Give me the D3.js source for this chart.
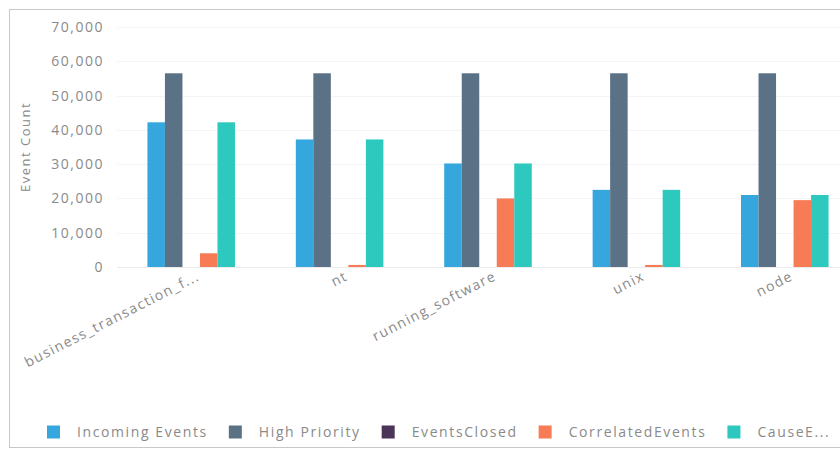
<!DOCTYPE html>
<html>
<head>
<meta charset="utf-8">
<script src="https://cdn.jsdelivr.net/npm/d3@7/dist/d3.min.js"></script>
<style>
  html, body { margin: 0; padding: 0; background: #fff; }
  svg { display: block; }
  text { font-family: "Open Sans", sans-serif; fill: #8a8a8a; }
</style>
</head>
<body>
<svg id="chart" width="840" height="450"></svg>
<script>
const categories = ["business_transaction_f...", "nt", "running_software", "unix", "node"];
const seriesNames = ["Incoming Events", "High Priority", "EventsClosed", "CorrelatedEvents", "CauseE..."];
const seriesColors = ["#35a7dc", "#5b7186", "#4a3558", "#f77b55", "#2dc9bf"];
const incomingEvents = [42200, 37200, 30200, 22500, 21000];
const highPriority = [56500, 56500, 56500, 56500, 56500];
const eventsClosed = [0, 0, 0, 0, 0];
const correlatedEvents = [4000, 600, 20000, 600, 19500];
const causeEvents = [42200, 37200, 30200, 22500, 21000];
const yTicks = [0, 10000, 20000, 30000, 40000, 50000, 60000, 70000];
const yTitle = "Event Count";

const seriesValues = [incomingEvents, highPriority, eventsClosed, correlatedEvents, causeEvents];

const svg = d3.select("#chart");

// outer frame
svg.append("rect")
  .attr("x", 9.5).attr("y", 9.5)
  .attr("width", 850).attr("height", 438)
  .attr("fill", "none").attr("stroke", "#c8c8c8").attr("stroke-width", 1);

const x0 = d3.scaleBand().domain(categories).range([117, 859]).paddingInner(0.41).paddingOuter(0.205);
const x1 = d3.scaleBand().domain(seriesNames).range([0, x0.bandwidth()]).padding(0);
const y = d3.scaleLinear().domain([0, 70000]).range([267, 27]);

// gridlines
svg.append("g").selectAll("line").data(yTicks).join("line")
  .attr("x1", 117).attr("x2", 840)
  .attr("y1", d => Math.round(y(d)) + 0.5).attr("y2", d => Math.round(y(d)) + 0.5)
  .attr("stroke", d => d === 0 ? "#ececec" : "#f4f4f4").attr("stroke-width", 1);

// y axis
const yAxis = d3.axisLeft(y).tickValues(yTicks).tickFormat(d3.format(",")).tickSize(0).tickPadding(0);
const gy = svg.append("g").attr("transform", "translate(104,0)").call(yAxis);
gy.select(".domain").remove();
gy.selectAll("text")
  .attr("fill", "#8a8a8a")
  .style("font-size", "14px")
  .style("letter-spacing", "1.5px")
  .style("font-family", "'Open Sans', sans-serif");

// y title
svg.append("text")
  .attr("transform", "translate(30,147) rotate(-90)")
  .attr("text-anchor", "middle")
  .style("font-size", "13px")
  .style("letter-spacing", "1.5px")
  .attr("fill", "#777")
  .text(yTitle);

// bars
const groups = svg.append("g").selectAll("g").data(categories).join("g")
  .attr("transform", d => `translate(${x0(d)},0)`);

groups.selectAll("rect")
  .data((c, i) => seriesNames.map((s, j) => ({ s, v: seriesValues[j][i], color: seriesColors[j] })))
  .join("rect")
  .attr("x", d => x1(d.s))
  .attr("width", x1.bandwidth())
  .attr("y", d => y(d.v))
  .attr("height", d => y(0) - y(d.v))
  .attr("fill", d => d.color);

// x axis labels
const xAxis = d3.axisBottom(x0).tickSize(0).tickPadding(0);
const gx = svg.append("g").attr("transform", "translate(0,275)").call(xAxis);
gx.select(".domain").remove();
gx.selectAll("text")
  .attr("text-anchor", "end")
  .attr("dy", "0.35em")
  .attr("transform", "translate(7,0) rotate(-27)")
  .attr("fill", "#7a7a7a")
  .style("font-size", "14px")
  .style("letter-spacing", "1.4px")
  .style("font-family", "'Open Sans', sans-serif");

// legend
const legend = svg.append("g").attr("transform", "translate(47,432)");
let cx = 0;
seriesNames.forEach((name, i) => {
  const g = legend.append("g").attr("transform", `translate(${cx},0)`);
  g.append("rect").attr("x", 0).attr("y", -6.5).attr("width", 13).attr("height", 13)
    .attr("fill", seriesColors[i]);
  const t = g.append("text").attr("x", 30).attr("y", 0).attr("dy", "0.35em")
    .style("font-size", "14px")
    .style("letter-spacing", "1.6px")
    .attr("fill", "#777")
    .text(name);
  cx += 30 + t.node().getComputedTextLength() + 21;
});
</script>
</body>
</html>
